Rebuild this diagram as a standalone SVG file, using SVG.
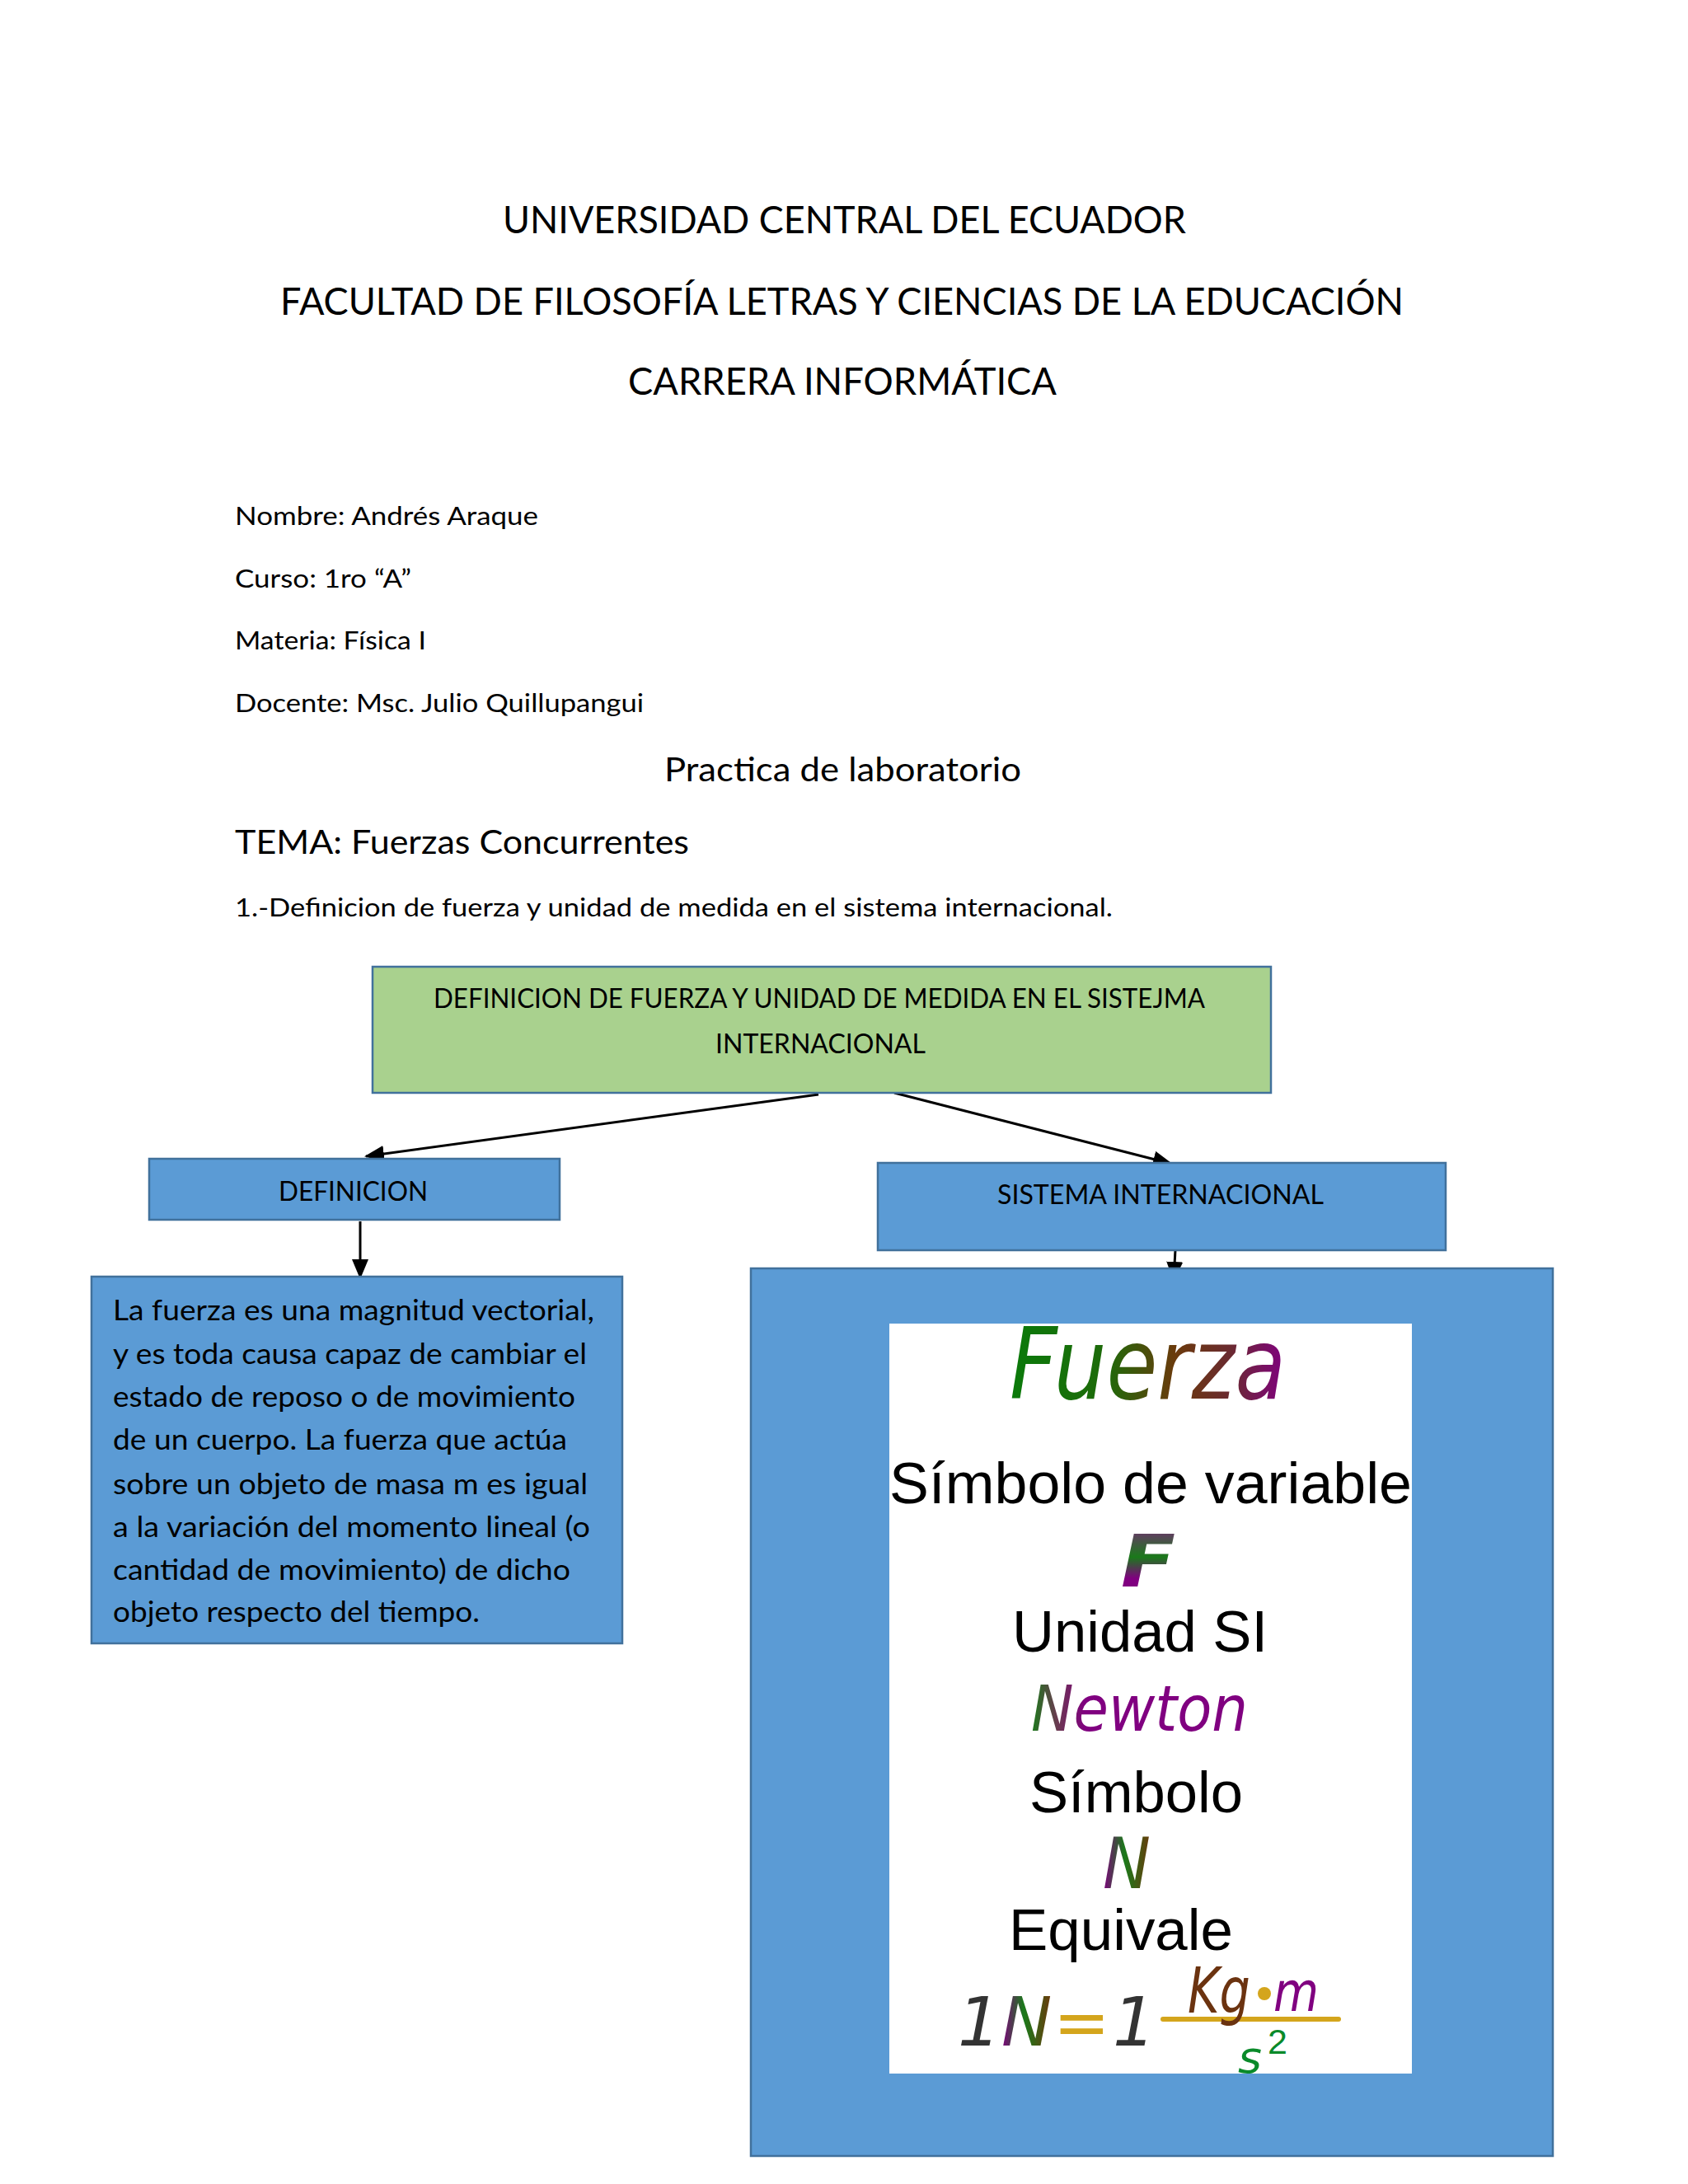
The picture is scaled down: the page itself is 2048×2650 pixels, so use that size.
<svg xmlns="http://www.w3.org/2000/svg" width="2048" height="2650" viewBox="0 0 2048 2650">
<style>
.cal{font-family:Lato,"Liberation Sans",sans-serif;fill:#000}
.ar{font-family:"Liberation Sans",Arial,sans-serif;fill:#000;font-size:70px}
.hw{font-family:"DejaVu Sans",sans-serif;font-style:italic}
.box{fill:#5b9bd5;stroke:#41719c;stroke-width:2.5}
.conn{stroke:#000;stroke-width:3;fill:none}
</style>
<defs>
<marker id="ah" markerUnits="userSpaceOnUse" markerWidth="24" markerHeight="20" refX="22" refY="10" orient="auto">
<path d="M0,0 L24,10 L0,20 Z" fill="#000"/>
</marker>
<linearGradient id="gFuerza" x1="0" y1="0" x2="1" y2="0">
<stop offset="0" stop-color="#0a7a0a"/>
<stop offset="0.35" stop-color="#1e6a0a"/>
<stop offset="0.6" stop-color="#6b3a0c"/>
<stop offset="0.8" stop-color="#6a2a30"/>
<stop offset="1" stop-color="#800080"/>
</linearGradient>
<linearGradient id="gF" x1="0" y1="0" x2="0" y2="1">
<stop offset="0" stop-color="#8a1a8a"/>
<stop offset="0.45" stop-color="#1a7a1a"/>
<stop offset="0.7" stop-color="#800080"/>
<stop offset="1" stop-color="#800080"/>
</linearGradient>
<linearGradient id="gNewton" x1="0" y1="0" x2="1" y2="0">
<stop offset="0" stop-color="#1a7a1a"/>
<stop offset="0.12" stop-color="#6a3a50"/>
<stop offset="0.25" stop-color="#800080"/>
<stop offset="1" stop-color="#800080"/>
</linearGradient>
<linearGradient id="gN" x1="0" y1="0" x2="1" y2="0">
<stop offset="0" stop-color="#800080"/>
<stop offset="0.45" stop-color="#1a7a1a"/>
<stop offset="1" stop-color="#6b3a0c"/>
</linearGradient>
<linearGradient id="gN2" gradientUnits="userSpaceOnUse" x1="1215" y1="0" x2="1275" y2="0">
<stop offset="0" stop-color="#800080"/>
<stop offset="0.45" stop-color="#1a7a1a"/>
<stop offset="1" stop-color="#6b3a0c"/>
</linearGradient>
</defs>
<rect width="2048" height="2650" fill="#fff"/>

<g id="header">
<text class="cal" x="610" y="283" font-size="46" textLength="829" lengthAdjust="spacingAndGlyphs">UNIVERSIDAD  CENTRAL DEL ECUADOR</text>
<text class="cal" x="340" y="382" font-size="46" textLength="1363" lengthAdjust="spacingAndGlyphs">FACULTAD  DE FILOSOFÍA LETRAS Y CIENCIAS  DE LA EDUCACIÓN</text>
<text class="cal" x="762" y="479" font-size="46" textLength="520" lengthAdjust="spacingAndGlyphs">CARRERA  INFORMÁTICA</text>
<text class="cal" x="285" y="637" font-size="30" textLength="368" lengthAdjust="spacingAndGlyphs">Nombre: Andrés Araque</text>
<text class="cal" x="285" y="713" font-size="30" textLength="214" lengthAdjust="spacingAndGlyphs">Curso: 1ro “A”</text>
<text class="cal" x="285" y="788" font-size="30" textLength="232" lengthAdjust="spacingAndGlyphs">Materia: Física I</text>
<text class="cal" x="285" y="864" font-size="30" textLength="496" lengthAdjust="spacingAndGlyphs">Docente: Msc. Julio Quillupangui</text>
<text class="cal" x="806" y="948" font-size="40" textLength="433" lengthAdjust="spacingAndGlyphs">Practica de laboratorio</text>
<text class="cal" x="285" y="1036" font-size="40" textLength="551" lengthAdjust="spacingAndGlyphs">TEMA: Fuerzas Concurrentes</text>
<text class="cal" x="285" y="1112" font-size="31" textLength="1065" lengthAdjust="spacingAndGlyphs">1.-Definicion de fuerza y unidad de medida en el sistema internacional.</text>
</g>

<g id="connectors">
<line class="conn" x1="993" y1="1328" x2="444" y2="1403" marker-end="url(#ah)"/>
<line class="conn" x1="1085" y1="1326" x2="1421" y2="1412" marker-end="url(#ah)"/>
<line class="conn" x1="437" y1="1482" x2="437" y2="1550" marker-end="url(#ah)"/>
<line class="conn" x1="1426" y1="1517" x2="1424" y2="1553" marker-end="url(#ah)"/>
</g>

<g id="node-root">
<rect x="452" y="1173" width="1090" height="153" fill="#a9d18e" stroke="#41719c" stroke-width="2.5"/>
<text class="cal" x="526" y="1223" font-size="32" textLength="936" lengthAdjust="spacingAndGlyphs">DEFINICION DE FUERZA Y UNIDAD DE MEDIDA EN EL SISTEJMA</text>
<text class="cal" x="868" y="1278" font-size="32" textLength="255" lengthAdjust="spacingAndGlyphs">INTERNACIONAL</text>
</g>

<g id="node-definicion">
<rect class="box" x="181" y="1406" width="498" height="74"/>
<text class="cal" x="338" y="1457" font-size="33" textLength="181" lengthAdjust="spacingAndGlyphs">DEFINICION</text>
</g>

<g id="node-sistema">
<rect class="box" x="1065" y="1411" width="689" height="106"/>
<text class="cal" x="1210" y="1461" font-size="32" textLength="396" lengthAdjust="spacingAndGlyphs">SISTEMA INTERNACIONAL</text>
</g>

<g id="node-texto">
<rect class="box" x="111" y="1549" width="644" height="445"/>
<g class="cal" font-size="35">
<text x="137" y="1602" textLength="584" lengthAdjust="spacingAndGlyphs">La fuerza es una magnitud vectorial,</text>
<text x="137" y="1655" textLength="575" lengthAdjust="spacingAndGlyphs">y es toda causa capaz de cambiar el</text>
<text x="137" y="1707" textLength="561" lengthAdjust="spacingAndGlyphs">estado de reposo o de movimiento</text>
<text x="137" y="1759" textLength="551" lengthAdjust="spacingAndGlyphs">de un cuerpo.  La fuerza que actúa</text>
<text x="137" y="1813" textLength="576" lengthAdjust="spacingAndGlyphs">sobre un objeto de masa m es igual</text>
<text x="137" y="1865" textLength="579" lengthAdjust="spacingAndGlyphs">a la variación del momento lineal (o</text>
<text x="137" y="1917" textLength="555" lengthAdjust="spacingAndGlyphs">cantidad de movimiento) de dicho</text>
<text x="137" y="1968" textLength="445" lengthAdjust="spacingAndGlyphs">objeto respecto del tiempo.</text>
</g>
</g>

<g id="node-imagen">
<rect class="box" x="911" y="1539" width="973" height="1077"/>
<rect x="1079" y="1606" width="634" height="910" fill="#fff"/>
<text class="hw" x="1225" y="1697" font-size="120" fill="url(#gFuerza)" textLength="335" lengthAdjust="spacingAndGlyphs">Fuerza</text>
<text class="ar" x="1079" y="1824" textLength="634" lengthAdjust="spacingAndGlyphs">Símbolo de variable</text>
<text class="hw" x="1360" y="1925" font-size="88" font-weight="bold" fill="url(#gF)" textLength="66" lengthAdjust="spacingAndGlyphs">F</text>
<text class="ar" x="1228" y="2004" textLength="310" lengthAdjust="spacingAndGlyphs">Unidad SI</text>
<text class="hw" x="1251" y="2100" font-size="76" fill="url(#gNewton)" textLength="263" lengthAdjust="spacingAndGlyphs">Newton</text>
<text class="ar" x="1249" y="2199" textLength="259" lengthAdjust="spacingAndGlyphs">Símbolo</text>
<text class="hw" x="1338" y="2291" font-size="86" fill="url(#gN)" textLength="58" lengthAdjust="spacingAndGlyphs">N</text>
<text class="ar" x="1224" y="2366" textLength="272" lengthAdjust="spacingAndGlyphs">Equivale</text>
<text class="hw" y="2482" font-size="82"><tspan x="1162" fill="#333">1</tspan><tspan x="1215" fill="url(#gN2)">N</tspan><tspan x="1278" fill="#d4a51c">=</tspan><tspan x="1350" fill="#333">1</tspan></text>
<line x1="1411" y1="2450" x2="1624" y2="2450" stroke="#d4a51c" stroke-width="6" stroke-linecap="round"/>
<text class="hw" x="1441" y="2442" font-size="76" fill="#6b3310" textLength="76" lengthAdjust="spacingAndGlyphs">Kg</text>
<circle cx="1534" cy="2419" r="8" fill="#d4a51c"/>
<text class="hw" x="1545" y="2440" font-size="66" fill="#800080" textLength="55" lengthAdjust="spacingAndGlyphs">m</text>
<text class="hw" x="1502" y="2515" font-size="54" fill="#0a8a2a" textLength="29" lengthAdjust="spacingAndGlyphs">s</text>
<text x="1538" y="2492" font-family="'Liberation Sans',Arial,sans-serif" font-size="43" fill="#0a8a2a">2</text>
</g>
</svg>
